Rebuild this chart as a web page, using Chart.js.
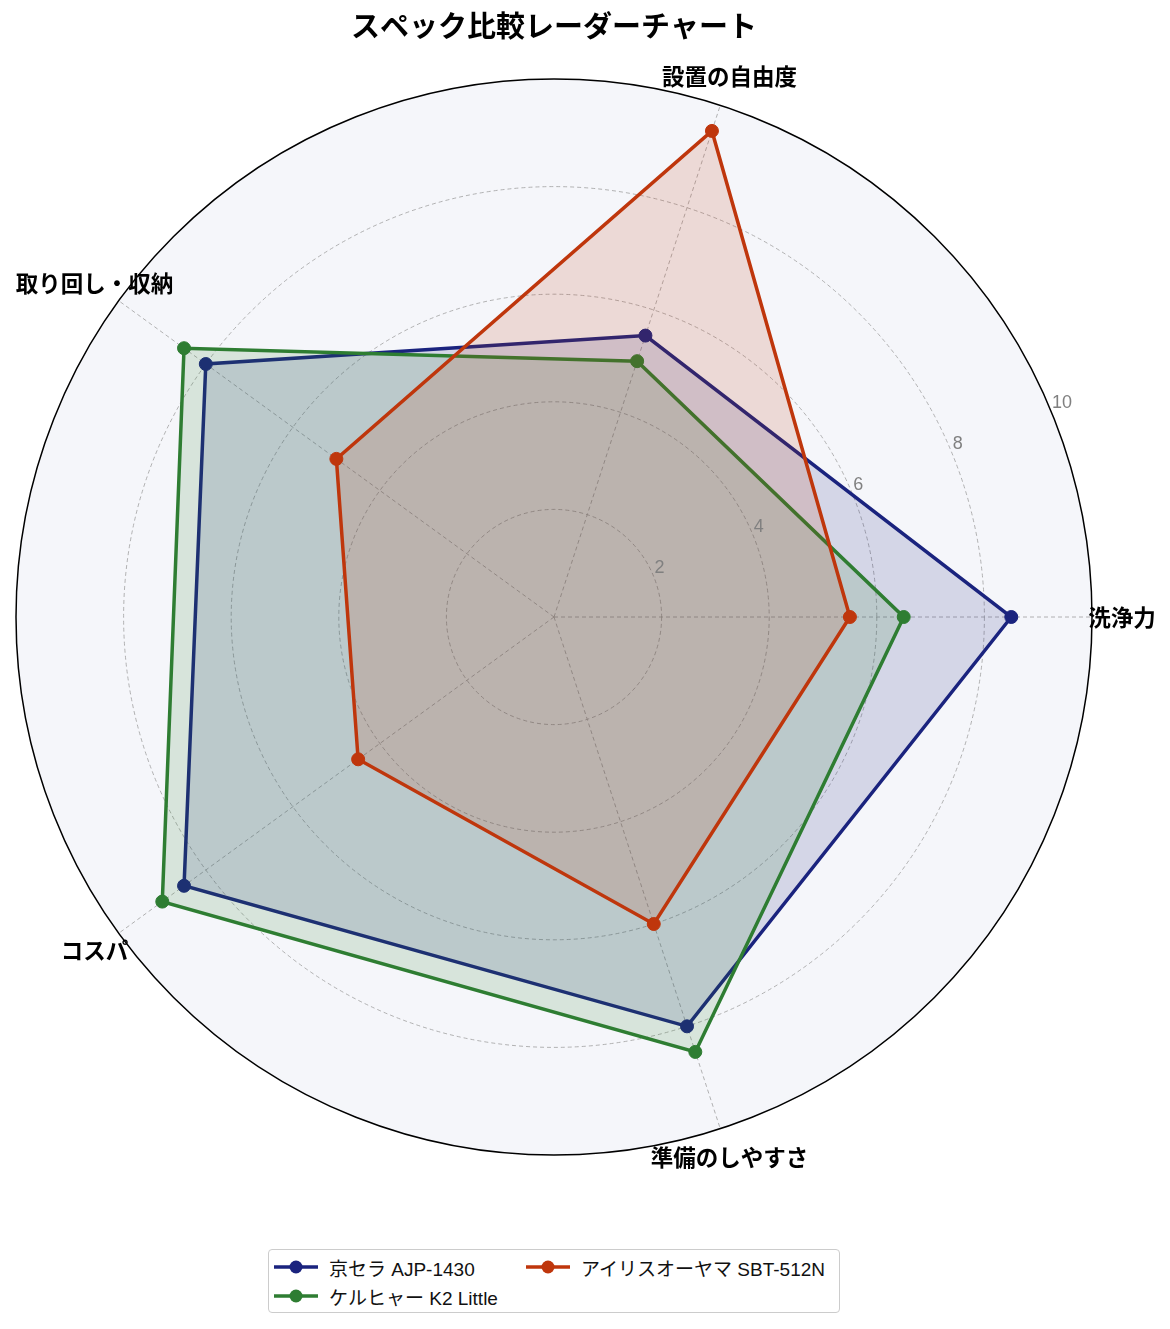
<!DOCTYPE html>
<html lang="ja">
<head>
<meta charset="utf-8">
<script src="https://cdn.jsdelivr.net/npm/chart.js@4"></script>
<style>
  html, body { margin: 0; padding: 0; background: #fff; }
  #wrap { position: relative; width: 1170px; height: 1329px; }
  #radar { position: absolute; left: 0; top: 0; }
  #legenda {
    position: absolute; left: 268px; top: 1249px; width: 570px; height: 62px;
    border: 1.5px solid #cccccc; border-radius: 4px; background: #fff;
    font-family: "Liberation Sans", "Noto Sans CJK JP", sans-serif; font-size: 19px; color: #111;
  }
  .item { position: absolute; display: flex; align-items: center; height: 28px; }
  .item svg { margin-right: 10px; }
</style>
</head>
<body>
<div id="wrap">
  <canvas id="radar" width="1170" height="1329"></canvas>
  <div id="legenda"></div>
</div>
<script>
// Categorias (sentido anti-horário a partir da direita)
const categorias = ['洗浄力', '設置の自由度', '取り回し・収納', 'コスパ', '準備のしやすさ'];
const modelos = ['京セラ AJP-1430', 'ケルヒャー K2 Little', 'アイリスオーヤマ SBT-512N'];
const kyocera = [8.5, 5.5, 8.0, 8.5, 8.0];
const karcher = [6.5, 5.0, 8.5, 9.0, 8.5];
const iris = [5.5, 9.5, 5.0, 4.5, 6.0];
const ticksR = [2, 4, 6, 8, 10];
const cores = ['#1a237e', '#2e7d32', '#bf360c'];
const titulo = 'スペック比較レーダーチャート';

// Chart.js gira no sentido horário: inverte a ordem depois do primeiro
const ordem = [0, 4, 3, 2, 1];
const reordena = arr => ordem.map(i => arr[i]);

function rgba(hex, a) {
    const n = parseInt(hex.slice(1), 16);
    return `rgba(${n >> 16},${(n >> 8) & 255},${n & 255},${a})`;
}

const series = [kyocera, karcher, iris];
const datasets = series.map((s, i) => ({
    label: modelos[i],
    data: reordena(s),
    borderColor: cores[i],
    backgroundColor: rgba(cores[i], 0.15),
    pointBackgroundColor: cores[i],
    pointBorderColor: cores[i],
    pointRadius: 6.5,
    pointBorderWidth: 1,
    borderWidth: 3.5,
    fill: true,
    order: 2 - i
}));

const fonteJP = '"Noto Sans CJK JP", "Noto Sans", sans-serif';
const fonteNum = '"Liberation Sans", "Noto Sans CJK JP", sans-serif';

// rótulos dos eixos e dos ticks desenhados à mão (posição estilo matplotlib)
const rotulosPlugin = {
    id: 'rotulos',
    afterDraw(chart) {
        const r = chart.scales.r;
        const ctx = chart.ctx;
        ctx.save();
        ctx.font = `bold 22.5px ${fonteJP}`;
        ctx.fillStyle = '#000';
        ctx.textAlign = 'center';
        ctx.textBaseline = 'middle';
        reordena(categorias).forEach((c, i) => {
            const p = r.getPointPosition(i, r.drawingArea + 30);
            ctx.fillText(c, p.x, p.y);
        });
        ctx.font = `18px ${fonteNum}`;
        ctx.fillStyle = '#808080';
        ctx.textAlign = 'left';
        ctx.textBaseline = 'bottom';
        const ang = 22.5 * Math.PI / 180;
        ticksR.forEach(v => {
            const d = r.getDistanceFromCenterForValue(v);
            ctx.fillText(String(v), r.xCenter + d * Math.cos(ang) + 1, r.yCenter - d * Math.sin(ang) + 1);
        });
        ctx.restore();
    }
};

new Chart(document.getElementById('radar'), {
    type: 'radar',
    data: {
        labels: reordena(categorias),
        datasets: datasets
    },
    plugins: [rotulosPlugin],
    options: {
        responsive: false,
        animation: false,
        devicePixelRatio: 1,
        layout: { padding: { left: 15, right: 77, top: 0, bottom: 173 } },
        elements: { line: { tension: 0 } },
        scales: {
            r: {
                min: 0,
                max: 10,
                startAngle: 90,
                backgroundColor: '#f5f6fa',
                ticks: { display: false, stepSize: 2 },
                pointLabels: { display: false },
                grid: {
                    circular: true,
                    color: ctx => ctx.tick && ctx.tick.value === 10 ? '#000' : '#a0a0a0',
                    lineWidth: ctx => ctx.tick && ctx.tick.value === 10 ? 1.5 : 0.8
                },
                border: {
                    dash: ctx => ctx.tick && ctx.tick.value === 10 ? [] : [4, 3]
                },
                angleLines: { color: '#a0a0a0', lineWidth: 0.8, borderDash: [4, 3] }
            }
        },
        plugins: {
            legend: { display: false },
            tooltip: { enabled: false },
            title: {
                display: true,
                text: titulo,
                color: '#000',
                font: { family: fonteJP, size: 29, weight: 'bold', lineHeight: 1.2 },
                padding: { top: 9, bottom: 35.2 }
            }
        }
    }
});

// Legenda em duas colunas (ordem por coluna, como no original)
const posLegenda = [[4, 3], [4, 32], [256, 3]];
const legenda = document.getElementById('legenda');
modelos.forEach((m, i) => {
    const el = document.createElement('div');
    el.className = 'item';
    el.style.left = posLegenda[i][0] + 'px';
    el.style.top = posLegenda[i][1] + 'px';
    el.innerHTML = `<svg width="46" height="16"><line x1="1" y1="8" x2="45" y2="8" stroke="${cores[i]}" stroke-width="3.5"/><circle cx="23" cy="8" r="6.5" fill="${cores[i]}"/></svg><span>${m}</span>`;
    legenda.appendChild(el);
});
</script>
</body>
</html>
